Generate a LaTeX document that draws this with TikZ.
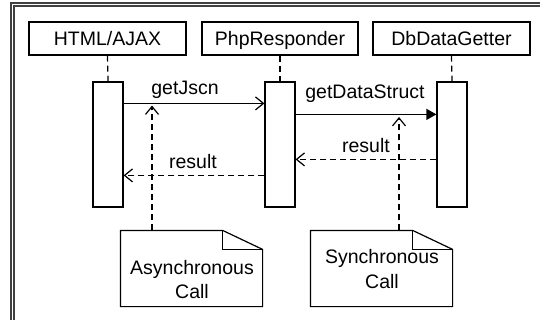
\documentclass[tikz,border=0pt]{standalone}
\usepackage{fontspec}
\setmainfont{Liberation Sans}
\usetikzlibrary{arrows.meta}
\begin{document}
\begin{tikzpicture}[x=1pt,y=-1pt, line width=1.2pt,
  font=\fontsize{19.5}{24}\selectfont,
  obj/.style={draw, minimum height=33pt, inner sep=0pt, text height=14pt, text depth=0pt},
  act/.style={draw, fill=white, minimum width=30pt, minimum height=125pt, inner sep=0pt},
  lifeline/.style={dash pattern=on 6pt off 4pt},
  call/.style={-{Straight Barb[length=8pt,width=13pt]}},
  synccall/.style={-{Triangle[length=10pt,width=11pt]}},
  ret/.style={dash pattern=on 6pt off 4pt, -{Straight Barb[length=8pt,width=13pt]}},
  notelink/.style={dash pattern=on 6pt off 4pt, -{Straight Barb[length=8pt,width=13pt]}},
  notebox/.style={minimum width=141pt, minimum height=75pt, inner sep=0pt},
  lbl/.style={anchor=base, inner sep=0pt},
  frameline/.style={draw=black!75, line width=1.3pt}
]
\useasboundingbox (0,0) rectangle (540,320);
% frame
\draw[frameline] (11,321) -- (11,3) -- (541,3);
\draw[frameline] (14,321) -- (14,6) -- (541,6);

% objects
\node[obj, minimum width=157pt] (html) at (107.5,38.5) {HTML/AJAX};
\node[obj, minimum width=156pt] (php) at (280,38.5) {PhpResponder};
\node[obj, minimum width=157pt] (db) at (451.5,38.5) {DbDataGetter};

% activations
\node[act] (act1) at (108,144.5) {};
\node[act] (act2) at (280,144.5) {};
\node[act] (act3) at (452,144.5) {};

% lifelines
\draw[lifeline] (html.south) -- (act1.north);
\draw[lifeline] (php.south) -- (act2.north);
\draw[lifeline] (db.south) -- (act3.north);

% notes
\node[notebox] (an) at (191.5,268.5) {};
\node[notebox] (sn) at (381.5,268.5) {};
\foreach \n in {an,sn}{
  \draw[fill=white] (\n.north west) -- ([xshift=-40pt]\n.north east) -- ([yshift=-19pt]\n.north east) -- (\n.south east) -- (\n.south west) -- cycle;
  \draw ([xshift=-40pt]\n.north east) |- ([yshift=-19pt]\n.north east);
}
\node[lbl] (an1) at (192,274) {Asynchronous};
\node[lbl] (an2) at (192,298) {Call};
\node[lbl] (sn1) at (382,263) {Synchronous};
\node[lbl] (sn2) at (382,288) {Call};

% note links
\coordinate (asynctip) at (152,105.5);
\coordinate (synctip) at (399,117);
\draw[notelink] (an.north -| asynctip) -- (asynctip);
\draw[notelink] (sn.north -| synctip) -- (synctip);

% messages
\draw[call] ([yshift=-22pt]act1.north east) -- ([yshift=-22pt]act2.north west);
\draw[synccall] ([yshift=-33pt]act2.north east) -- ([yshift=-33pt]act3.north west);
\draw[ret] ([yshift=-78pt]act3.north west) -- ([yshift=-78pt]act2.north east);
\draw[ret] ([yshift=-94pt]act2.north west) -- ([yshift=-94pt]act1.north east);

\node[lbl] (m1) at (185,95) {getJscn};
\node[lbl] (m2) at (365,99) {getDataStruct};
\node[lbl] (m3) at (366,153) {result};
\node[lbl] (m4) at (193,169) {result};
\end{tikzpicture}
\end{document}
